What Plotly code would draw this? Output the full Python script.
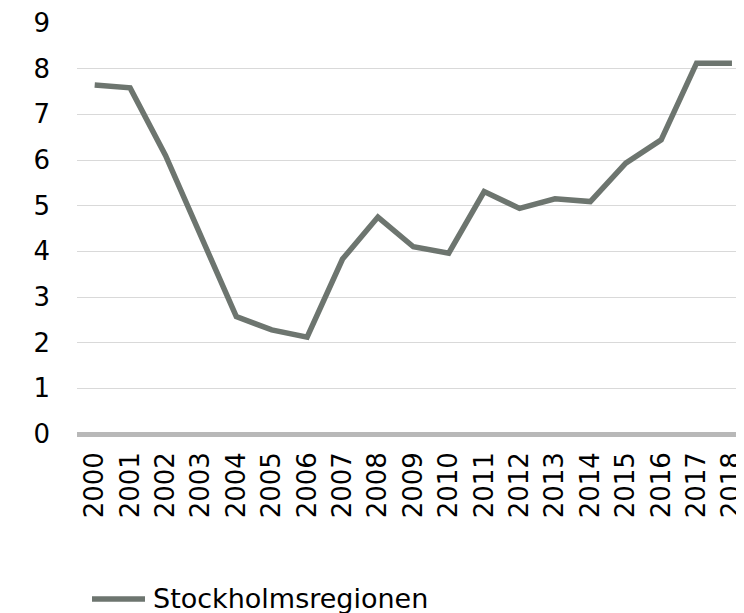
import plotly.graph_objects as go

# årtal på x-axeln
YEARS = [str(y) for y in range(2000, 2019)]

# Stockholmsregionen
STOCKHOLM = [7.64, 7.58, 6.10, 4.35, 2.57, 2.28, 2.12, 3.83, 4.75, 4.10,
             3.96, 5.31, 4.94, 5.15, 5.09, 5.93, 6.44, 8.12, 8.12]

SERIES_NAME = "Stockholmsregionen"
Y_TICKS = list(range(0, 10))

FONT = "DejaVu Sans"
LINE_COLOR = "#6d756f"

# sidan har 8 px marginal runt diagrammet i webbläsaren
PAGE_PAD = 8
PLOT_W, PLOT_H = 667, 411


def plot_stockholm():
    fig = go.Figure()
    fig.add_trace(go.Scatter(
        x=YEARS, y=STOCKHOLM, mode="lines", name=SERIES_NAME,
        line=dict(color=LINE_COLOR, width=5.5), showlegend=False,
    ))

    # egen förklaring under diagrammet (plotlys legend skulle trycka ihop ytan)
    fig.add_shape(
        type="line", xref="paper", yref="paper",
        x0=15 / PLOT_W, x1=68 / PLOT_W, y0=-165 / PLOT_H, y1=-165 / PLOT_H,
        line=dict(color=LINE_COLOR, width=5.5),
    )
    fig.add_annotation(
        text=SERIES_NAME, xref="paper", yref="paper", showarrow=False,
        x=74 / PLOT_W, y=-164 / PLOT_H, xanchor="left", yanchor="middle",
        font=dict(size=27),
    )

    fig.update_layout(
        width=744 - PAGE_PAD, height=613 - PAGE_PAD,
        margin=dict(l=77 - PAGE_PAD, r=0, t=23 - PAGE_PAD, b=179),
        plot_bgcolor="white", paper_bgcolor="white",
        font=dict(family=FONT, size=26, color="black"),
        showlegend=False,
    )
    fig.update_xaxes(
        type="category", range=[-0.5, 18.34], tickangle=-90, automargin=False,
        showgrid=False, showline=False, ticks="", ticklabelstandoff=12,
    )
    fig.update_yaxes(
        range=[0, 9], tickvals=Y_TICKS, showgrid=True, gridcolor="#d9d9d9",
        gridwidth=1, zeroline=True, zerolinecolor="#b8b8b8", zerolinewidth=5,
        showline=False, ticks="", ticklabelstandoff=26, automargin=False,
    )

    fig.write_html("out.html")


if __name__ == "__main__":
    plot_stockholm()
